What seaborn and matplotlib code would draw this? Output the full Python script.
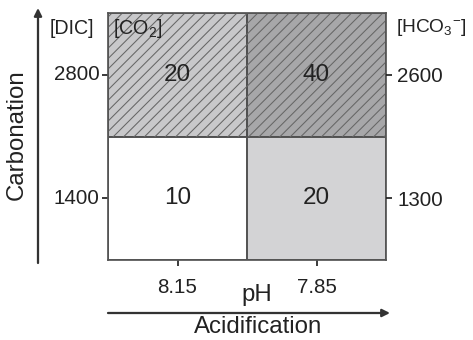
import numpy as np
import pandas as pd
import seaborn as sns
import matplotlib.pyplot as plt
from matplotlib.colors import ListedColormap, BoundaryNorm
from matplotlib.patches import Rectangle, FancyArrowPatch

# data
ph_labels = ['8.15', '7.85']
dic_labels = ['2800', '1400']
hco3_labels = ['2600', '1300']
counts = [[20, 40],
          [10, 20]]
hatched_rows = [0]

sns.set_theme(style='white')
plt.rcParams['font.family'] = ['Liberation Sans', 'DejaVu Sans']
plt.rcParams['mathtext.fontset'] = 'custom'
plt.rcParams['mathtext.rm'] = 'Liberation Sans'
plt.rcParams['mathtext.it'] = 'Liberation Sans'
plt.rcParams['hatch.linewidth'] = 0.6

DPI = 125
W, H = 473, 340
TXT = '#222222'
EDGE = '#555555'

df = pd.DataFrame(counts, index=dic_labels, columns=ph_labels)

fig = plt.figure(figsize=(W / DPI, H / DPI), dpi=DPI)
ax = fig.add_axes([108 / W, 1 - 260 / H, 278 / W, 247 / H])

cmap = ListedColormap(['#ffffff', '#d3d3d5', '#b1b1b3'])
norm = BoundaryNorm([5, 15, 30, 50], cmap.N)
sns.heatmap(df, ax=ax, cmap=cmap, norm=norm, cbar=False, annot=True, fmt='d',
            annot_kws={'fontsize': 14, 'color': TXT},
            linewidths=1, linecolor=EDGE)

# hatched overlay on the high-CO2 row
for r in hatched_rows:
    for c in range(df.shape[1]):
        ax.add_patch(Rectangle((c, r), 1, 1, facecolor=(0, 0, 0, 0.05),
                               edgecolor='#666666', hatch='////', linewidth=0,
                               zorder=1.5))

for s in ax.spines.values():
    s.set_visible(True)
    s.set_color(EDGE)
    s.set_linewidth(1)

ax.tick_params(axis='both', labelsize=11.8, colors=TXT, length=3.5, width=1,
               direction='out')
ax.tick_params(axis='y', pad=1.5, left=True, labelrotation=0)
ax.tick_params(axis='x', pad=7, bottom=True, labelrotation=0)
ax.set_xlabel('pH', fontsize=13.8, color=TXT)
ax.xaxis.set_label_coords((257 - 108) / 278, -(295 - 260) / 247)
ax.xaxis.label.set_va('center')
ax.set_ylabel('')

ax2 = ax.twinx()
ax2.set_ylim(ax.get_ylim())
ax2.set_yticks(np.arange(len(hco3_labels)) + 0.5)
ax2.set_yticklabels(hco3_labels)
ax2.tick_params(axis='y', labelsize=11.8, colors=TXT, length=3.5, width=1,
                direction='out', pad=3, right=True)
for s in ax2.spines.values():
    s.set_visible(False)

def fx(px):
    return px / W

def fy(py):
    return 1 - py / H

fig.text(fx(50), fy(28), '[DIC]', fontsize=11.3, color=TXT, va='center', ha='left')
fig.text(fx(113), fy(28), r'[CO$_2$]', fontsize=11.3, color=TXT, va='center', ha='left')
fig.text(fx(396), fy(28), r'[HCO$_3$$^{-}$]', fontsize=11.0, color=TXT,
         va='center', ha='left')

fig.text(fx(17), fy(135), 'Carbonation', fontsize=13.8, color=TXT, rotation=90,
         va='center', ha='center')
fig.text(fx(258), fy(327), 'Acidification', fontsize=13.8, color=TXT,
         va='center', ha='center')

arrow = dict(arrowstyle='-|>', color='#333333', lw=1.3, mutation_scale=9,
             shrinkA=0, shrinkB=0)
fig.add_artist(FancyArrowPatch((fx(38), fy(263)), (fx(38), fy(8)),
                               transform=fig.transFigure, **arrow))
fig.add_artist(FancyArrowPatch((fx(108), fy(313)), (fx(390), fy(313)),
                               transform=fig.transFigure, **arrow))

fig.savefig('out.png', dpi=DPI)
